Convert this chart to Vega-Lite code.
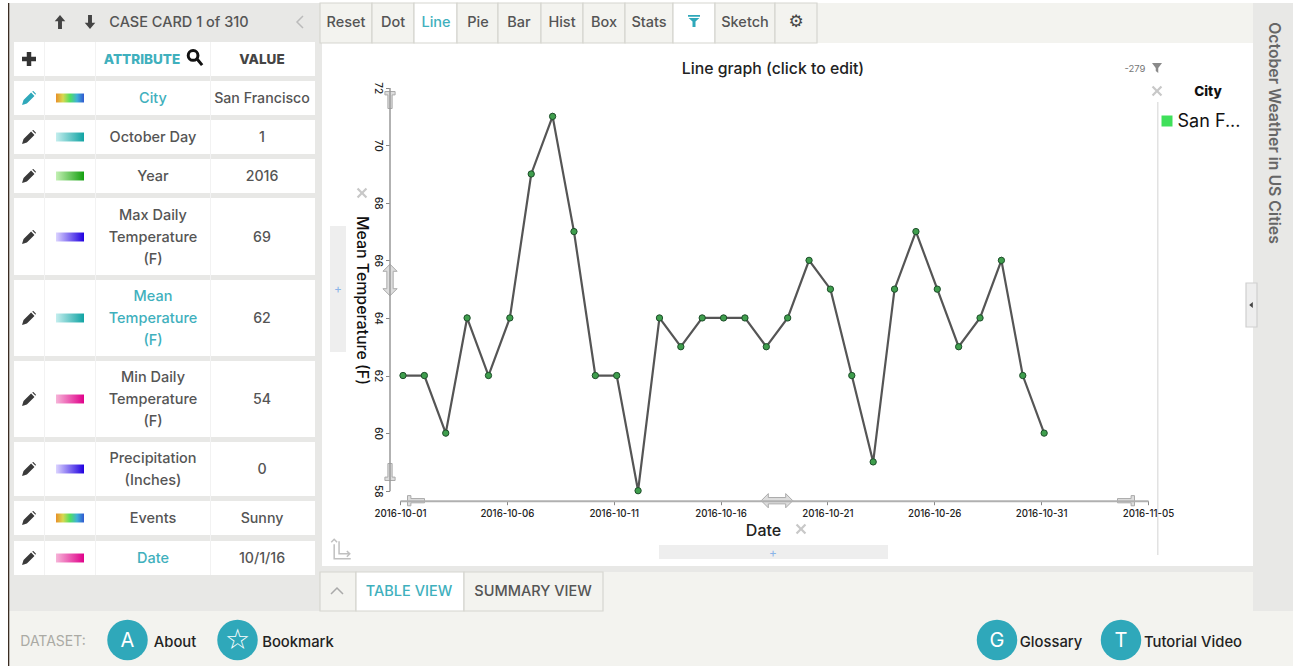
{
"$schema":"https://vega.github.io/schema/vega-lite/v6.json",
"width":1293,"height":666,"padding":0,"autosize":"none","background":"#ffffff",
"view":{"stroke":null},
"config":{"font":"Inter","text":{"font":"Inter","lineBreak":"\n","lineHeight":22,"dy":1}},
"resolve":{"scale":{"x":"independent","y":"independent","color":"independent","stroke":"independent"},"axis":{"x":"independent","y":"independent"}},
"layer":[
{"data":{"values":[
{"box":"left panel","kind":"panel","start":1,"end":1.5},
{"box":"right panel","kind":"panel","start":2,"end":2.5},
{"box":"toolbar","kind":"cream","start":3,"end":3.5},
{"box":"plot","kind":"white","start":4,"end":4.5},
{"box":"band","kind":"panel","start":5,"end":5.5},
{"box":"tabs","kind":"cream","start":6,"end":6.5},
{"box":"footer","kind":"cream","start":7,"end":7.5},
{"box":"edge","kind":"edge","start":8,"end":8.5},
{"box":"row header","kind":"white","start":9,"end":9.5},
{"box":"row City","kind":"white","start":10,"end":10.5},
{"box":"row Day","kind":"white","start":11,"end":11.5},
{"box":"row Year","kind":"white","start":12,"end":12.5},
{"box":"row Max","kind":"white","start":13,"end":13.5},
{"box":"row Mean","kind":"white","start":14,"end":14.5},
{"box":"row Min","kind":"white","start":15,"end":15.5},
{"box":"row Precip","kind":"white","start":16,"end":16.5},
{"box":"row Events","kind":"white","start":17,"end":17.5},
{"box":"row Date","kind":"white","start":18,"end":18.5},
{"box":"sep1","kind":"sep","start":19,"end":19.5},
{"box":"sep2","kind":"sep","start":20,"end":20.5},
{"box":"sep3","kind":"sep","start":21,"end":21.5},
{"box":"Reset","kind":"button","start":22,"end":22.5},
{"box":"Dot","kind":"button","start":23,"end":23.5},
{"box":"Line","kind":"active","start":24,"end":24.5},
{"box":"Pie","kind":"button","start":25,"end":25.5},
{"box":"Bar","kind":"button","start":26,"end":26.5},
{"box":"Hist","kind":"button","start":27,"end":27.5},
{"box":"Box","kind":"button","start":28,"end":28.5},
{"box":"Stats","kind":"button","start":29,"end":29.5},
{"box":"Filter","kind":"active","start":30,"end":30.5},
{"box":"Sketch","kind":"button","start":31,"end":31.5},
{"box":"Settings","kind":"button","start":32,"end":32.5},
{"box":"Collapse tab","kind":"button","start":33,"end":33.5},
{"box":"Table view","kind":"active","start":34,"end":34.5},
{"box":"Summary view","kind":"button","start":35,"end":35.5},
{"box":"y add","kind":"add","start":36,"end":36.5},
{"box":"x add","kind":"add","start":37,"end":37.5},
{"box":"legend rule","kind":"rule","start":38,"end":38.5},
{"box":"side handle","kind":"side","start":39,"end":39.5}
]},
"mark":{"type":"rect","strokeWidth":1.2},
"encoding":{
"x":{"field":"start","type":"quantitative","axis":null,"scale":{"nice":false,"zero":false,
"domain":[1,1.5,2,2.5,3,3.5,4,4.5,5,5.5,6,6.5,7,7.5,8,8.5,9,9.5,10,10.5,11,11.5,12,12.5,13,13.5,14,14.5,15,15.5,16,16.5,17,17.5,18,18.5,19,19.5,20,20.5,21,21.5,22,22.5,23,23.5,24,24.5,25,25.5,26,26.5,27,27.5,28,28.5,29,29.5,30,30.5,31,31.5,32,32.5,33,33.5,34,34.5,35,35.5,36,36.5,37,37.5,38,38.5,39,39.5],
"range":[9,322,1253,1293,320,1253,322,1253,320,1253,320,1253,9,1293,8,9.3,14,315,14,315,14,315,14,315,14,315,14,315,14,315,14,315,14,315,14,315,44,45,95,96,210,211,320,372,372,414,414,457,457,498,498,541,541,583,583,625,625,673,673,715,715,775,775,817,320,356,356,464,464,603,330,346,659,888,1157,1158.5,1246,1257]}},
"x2":{"field":"end"},
"y":{"field":"start","type":"quantitative","axis":null,"scale":{"nice":false,"zero":false,
"domain":[1,1.5,2,2.5,3,3.5,4,4.5,5,5.5,6,6.5,7,7.5,8,8.5,9,9.5,10,10.5,11,11.5,12,12.5,13,13.5,14,14.5,15,15.5,16,16.5,17,17.5,18,18.5,19,19.5,20,20.5,21,21.5,22,22.5,23,23.5,24,24.5,25,25.5,26,26.5,27,27.5,28,28.5,29,29.5,30,30.5,31,31.5,32,32.5,33,33.5,34,34.5,35,35.5,36,36.5,37,37.5,38,38.5,39,39.5],
"range":[3,612,3,611,3,43,43,566,566,572,572,611,611,666,3,666,42,76,81,115,120,154,159,193,198,275,280,356,361,437,442,496,501,535,541,575,42,575,42,575,42,575,3,43,3,43,3,43,3,43,3,43,3,43,3,43,3,43,3,43,3,43,3,43,572,611,572,611,572,611,226,352,545,559,102,555,283,327]}},
"y2":{"field":"end"},
"fill":{"field":"kind","type":"nominal","legend":null,"scale":{"domain":["panel","cream","white","edge","sep","button","active","add","rule","side"],"range":["#e8e8e6","#f3f3ef","#ffffff","#3a2c22","#f2f2f2","#f3f3ef","#ffffff","#eeeeee","#e2e2e2","#eeeeee"]}},
"stroke":{"field":"kind","type":"nominal","legend":null,"scale":{"domain":["panel","cream","white","edge","sep","button","active","add","rule","side"],"range":["transparent","transparent","transparent","transparent","transparent","#d6d6d0","#d6d6d0","transparent","transparent","#cfcfcf"]}}
}},
{"data":{"values":[
{"row":1,"attribute":"City","value":"San Francisco","selected":true,"group":"rainbow"},
{"row":2,"attribute":"October Day","value":"1","selected":false,"group":"teal"},
{"row":3,"attribute":"Year","value":"2016","selected":false,"group":"green"},
{"row":4,"attribute":"Max Daily\nTemperature\n(F)","value":"69","selected":false,"group":"blue"},
{"row":5,"attribute":"Mean\nTemperature\n(F)","value":"62","selected":true,"group":"teal"},
{"row":6,"attribute":"Min Daily\nTemperature\n(F)","value":"54","selected":false,"group":"pink"},
{"row":7,"attribute":"Precipitation\n(Inches)","value":"0","selected":false,"group":"blue"},
{"row":8,"attribute":"Events","value":"Sunny","selected":false,"group":"rainbow"},
{"row":9,"attribute":"Date","value":"10/1/16","selected":true,"group":"pink"}
]},
"encoding":{"y":{"field":"row","type":"quantitative","axis":null,"scale":{"nice":false,"zero":false,"domain":[1,2,3,4,5,6,7,8,9],"range":[98,137,176,237,318,399,469,518,558]}}},
"layer":[
{"mark":{"type":"point","filled":true,"opacity":1,"size":196,"shape":"M-1,1 L-0.78,0.3 L0.3,-0.78 L0.78,-0.3 L-0.3,0.78 Z M0.45,-0.92 L0.62,-1 L1,-0.62 L0.92,-0.45 Z"},
"encoding":{"x":{"datum":1,"type":"quantitative","axis":null,"scale":{"nice":false,"zero":false,"domain":[1,4],"range":[29,262]}},
"color":{"condition":{"test":"datum.selected && datum.row==1","value":"#2fa8ba"},"value":"#3a3a3a"}}},
{"transform":[{"filter":"datum.group=='rainbow'"}],"mark":{"type":"point","filled":true,"opacity":1,"size":784,"shape":"M-1,-0.32 L1,-0.32 L1,0.32 L-1,0.32 Z","fill":{"gradient":"linear","x1":0,"x2":1,"y1":0,"y2":0,"stops":[{"offset":0,"color":"#e8902a"},{"offset":0.25,"color":"#d8d850"},{"offset":0.5,"color":"#50e060"},{"offset":0.75,"color":"#40b0d8"},{"offset":1,"color":"#3058d0"}]}},
"encoding":{"x":{"datum":2,"type":"quantitative","axis":null,"scale":{"nice":false,"zero":false,"domain":[1,2],"range":[29,70]}}}},
{"transform":[{"filter":"datum.group=='teal'"}],"mark":{"type":"point","filled":true,"opacity":1,"size":784,"shape":"M-1,-0.32 L1,-0.32 L1,0.32 L-1,0.32 Z","fill":{"gradient":"linear","x1":0,"x2":1,"y1":0,"y2":0,"stops":[{"offset":0,"color":"#c4eeee"},{"offset":1,"color":"#10a3a3"}]}},
"encoding":{"x":{"datum":2,"type":"quantitative","axis":null,"scale":{"nice":false,"zero":false,"domain":[1,2],"range":[29,70]}}}},
{"transform":[{"filter":"datum.group=='green'"}],"mark":{"type":"point","filled":true,"opacity":1,"size":784,"shape":"M-1,-0.32 L1,-0.32 L1,0.32 L-1,0.32 Z","fill":{"gradient":"linear","x1":0,"x2":1,"y1":0,"y2":0,"stops":[{"offset":0,"color":"#c4f0b4"},{"offset":1,"color":"#14a010"}]}},
"encoding":{"x":{"datum":2,"type":"quantitative","axis":null,"scale":{"nice":false,"zero":false,"domain":[1,2],"range":[29,70]}}}},
{"transform":[{"filter":"datum.group=='blue'"}],"mark":{"type":"point","filled":true,"opacity":1,"size":784,"shape":"M-1,-0.32 L1,-0.32 L1,0.32 L-1,0.32 Z","fill":{"gradient":"linear","x1":0,"x2":1,"y1":0,"y2":0,"stops":[{"offset":0,"color":"#dcd4ff"},{"offset":1,"color":"#2000e0"}]}},
"encoding":{"x":{"datum":2,"type":"quantitative","axis":null,"scale":{"nice":false,"zero":false,"domain":[1,2],"range":[29,70]}}}},
{"transform":[{"filter":"datum.group=='pink'"}],"mark":{"type":"point","filled":true,"opacity":1,"size":784,"shape":"M-1,-0.32 L1,-0.32 L1,0.32 L-1,0.32 Z","fill":{"gradient":"linear","x1":0,"x2":1,"y1":0,"y2":0,"stops":[{"offset":0,"color":"#f6b4d8"},{"offset":1,"color":"#e0008a"}]}},
"encoding":{"x":{"datum":2,"type":"quantitative","axis":null,"scale":{"nice":false,"zero":false,"domain":[1,2],"range":[29,70]}}}},
{"mark":{"type":"text","fontSize":14.5,"fontWeight":500},
"encoding":{"x":{"datum":3,"type":"quantitative","axis":null,"scale":{"nice":false,"zero":false,"domain":[3,4],"range":[153,262]}},
"y":{"field":"row","type":"quantitative","axis":null,"scale":{"nice":false,"zero":false,"domain":[1,2,3,4,5,6,7,8,9],"range":[98,137,176,215,296,377,458,518,558]}},
"text":{"field":"attribute"},
"color":{"condition":{"test":"datum.selected","value":"#3fb0bd"},"value":"#555555"}}},
{"mark":{"type":"text","fontSize":14.2,"fontWeight":500,"color":"#555555"},
"encoding":{"x":{"datum":4,"type":"quantitative","axis":null,"scale":{"nice":false,"zero":false,"domain":[3,4],"range":[153,262]}},"text":{"field":"value"}}}
],
"resolve":{"scale":{"x":"independent","y":"independent"}}
},
{"data":{"values":[
{"i":1,"icon":"up"},{"i":2,"icon":"down"},
{"i":3,"text":"CASE CARD 1 of 310","style":"label"},
{"i":4,"line":"chev-left"},
{"i":5,"icon":"plus"},
{"i":6,"text":"ATTRIBUTE","style":"strong","active":true},
{"i":7,"text":"VALUE","style":"strong"},
{"i":8,"line":"search"},
{"i":9,"text":"Line graph (click to edit)","style":"heading"},
{"i":10,"text":"-279","style":"tiny"},
{"i":11,"icon":"funnel-grey"},{"i":12,"icon":"funnel-teal"},
{"i":13,"text":"⚙","style":"gear"},
{"i":14,"icon":"x-mark"},{"i":15,"icon":"x-mark"},{"i":16,"icon":"x-mark"},
{"i":17,"text":"City","style":"strong","black":true},
{"i":18,"icon":"swatch"},
{"i":19,"text":"San F...","style":"legend"},
{"i":20,"text":"October Weather in US Cities","style":"side"},
{"i":21,"icon":"tri-left"},
{"i":22,"text":"+","style":"add"},{"i":23,"text":"+","style":"add"},
{"i":24,"line":"axes"},{"i":25,"line":"chev-up"},
{"i":26,"text":"TABLE VIEW","style":"label","active":true},
{"i":27,"text":"SUMMARY VIEW","style":"label"},
{"i":28,"text":"DATASET:","style":"faint"},
{"i":29,"handle":"peg-down"},{"i":30,"handle":"double-v"},{"i":31,"handle":"peg-up"},
{"i":32,"handle":"peg-right"},{"i":33,"handle":"double-h"},{"i":34,"handle":"peg-left"},
{"i":35,"icon":"badge"},{"i":36,"icon":"badge"},{"i":37,"icon":"badge"},{"i":38,"icon":"badge"},
{"i":39,"text":"A","style":"badge"},{"i":40,"text":"☆","style":"star"},{"i":41,"text":"G","style":"badge"},{"i":42,"text":"T","style":"badge"},
{"i":43,"text":"About","style":"dark"},{"i":44,"text":"Bookmark","style":"dark"},{"i":45,"text":"Glossary","style":"dark"},{"i":46,"text":"Tutorial Video","style":"dark"},
{"i":47,"text":"Reset","style":"label"},{"i":48,"text":"Dot","style":"label"},{"i":49,"text":"Line","style":"label","active":true},{"i":50,"text":"Pie","style":"label"},{"i":51,"text":"Bar","style":"label"},{"i":52,"text":"Hist","style":"label"},{"i":53,"text":"Box","style":"label"},{"i":54,"text":"Stats","style":"label"},{"i":55,"text":"Sketch","style":"label"}
]},
"encoding":{
"x":{"field":"i","type":"quantitative","axis":null,"scale":{"nice":false,"zero":false,
"domain":[1,2,3,4,5,6,7,8,9,10,11,12,13,14,15,16,17,18,19,20,21,22,23,24,25,26,27,28,29,30,31,32,33,34,35,36,37,38,39,40,41,42,43,44,45,46,47,48,49,50,51,52,53,54,55],
"range":[60,90,179,300,29,142,262,195,773,1135,1157,694,796,362,801,1157,1208,1167,1209,1275,1251,338,773,341,337,409,533,53,390,390,390,416,777,1126,127.5,237.5,997,1121,127.5,237.5,997,1121,175,298,1051,1193,346,393,436,478,519,562,604,649,745]}},
"y":{"field":"i","type":"quantitative","axis":null,"scale":{"nice":false,"zero":false,
"domain":[1,2,3,4,5,6,7,8,9,10,11,12,13,14,15,16,17,18,19,20,21,22,23,24,25,26,27,28,29,30,31,32,33,34,35,36,37,38,39,40,41,42,43,44,45,46,47,48,49,50,51,52,53,54,55],
"range":[22,22,22,22,59,59,59,58,68,68,68,21,21,193,529,91,91,121,121,133,305,288,552,549,591,591,591,641,100,280,472,500.7,500.7,500.7,640,640,640,640,640,640,640,640,642,642,642,642,22,22,22,22,22,22,22,22,22]}}
},
"resolve":{"scale":{"shape":"independent","size":"independent","color":"independent"}},
"layer":[
{"transform":[{"filter":"datum.icon"}],"mark":{"type":"point","filled":true,"opacity":1},
"encoding":{
"shape":{"field":"icon","type":"nominal","legend":null,"scale":{"domain":["up","down","plus","funnel-grey","funnel-teal","x-mark","swatch","tri-left","badge"],"range":["M0,-1 L0.75,-0.1 L0.28,-0.1 L0.28,1 L-0.28,1 L-0.28,-0.1 L-0.75,-0.1 Z","M0,1 L0.75,0.1 L0.28,0.1 L0.28,-1 L-0.28,-1 L-0.28,0.1 L-0.75,0.1 Z","M-0.32,-1 L0.32,-1 L0.32,-0.32 L1,-0.32 L1,0.32 L0.32,0.32 L0.32,1 L-0.32,1 L-0.32,0.32 L-1,0.32 L-1,-0.32 L-0.32,-0.32 Z","M-1,-1 L1,-1 L0.25,0 L0.25,1 L-0.25,0.6 L-0.25,0 Z","M-1,-1 L1,-1 L1,-0.7 L-1,-0.7 Z M-0.9,-0.5 L0.9,-0.5 L0.25,0.1 L0.25,1 L-0.25,1 L-0.25,0.1 Z","M-1,-0.7 L-0.7,-1 L0,-0.3 L0.7,-1 L1,-0.7 L0.3,0 L1,0.7 L0.7,1 L0,0.3 L-0.7,1 L-1,0.7 L-0.3,0 Z","square","M0.6,-1 L0.6,1 L-0.6,0 Z","circle"]}},
"size":{"field":"icon","type":"nominal","legend":null,"scale":{"type":"ordinal","domain":["up","down","plus","funnel-grey","funnel-teal","x-mark","swatch","tri-left","badge"],"range":[196,196,196,100,144,110,121,36,1640]}},
"color":{"field":"icon","type":"nominal","legend":null,"scale":{"domain":["up","down","plus","funnel-grey","funnel-teal","x-mark","swatch","tri-left","badge"],"range":["#444444","#444444","#333333","#8a8a8a","#2fa8ba","#c8c8c8","#3fe05a","#444444","#2fa8ba"]}}
}},
{"transform":[{"filter":"datum.line"}],"mark":{"type":"point","filled":false,"opacity":1,"strokeWidth":1.5},
"encoding":{
"shape":{"field":"line","type":"nominal","legend":null,"scale":{"domain":["chev-left","chev-up","search","axes"],"range":["M0.5,-1 L-0.5,0 L0.5,1","M-1,0.5 L0,-0.5 L1,0.5","M-0.25,-1 A0.65,0.65 0 1 1 -0.26,-1 Z M0.25,0.1 L0.95,0.95","M-0.7,-0.5 L-0.7,1 L1,1 M-1,-0.7 L-0.7,-1 L-0.4,-0.7 M-0.2,-0.8 L-0.2,0.5 L0.9,0.5 M0.6,0.2 L0.9,0.5 L0.6,0.8"]}},
"size":{"field":"line","type":"nominal","legend":null,"scale":{"type":"ordinal","domain":["chev-left","chev-up","search","axes"],"range":[144,144,225,380]}},
"color":{"field":"line","type":"nominal","legend":null,"scale":{"domain":["chev-left","chev-up","search","axes"],"range":["#bbbbbb","#aaaaaa","#111111","#c0c0c0"]}},
"strokeWidth":{"condition":{"test":"datum.line=='search'","value":3},"value":1.5}
}},
{"transform":[{"filter":"datum.handle"}],"mark":{"type":"point","filled":true,"opacity":1,"fill":"#dddddd","stroke":"#aaaaaa","strokeWidth":1},
"encoding":{
"shape":{"field":"handle","type":"nominal","legend":null,"scale":{"domain":["peg-down","peg-up","peg-right","peg-left","double-v","double-h"],"range":["M-0.6,-1 L0.6,-1 L0.6,-0.6 L0.25,-0.6 L0.25,1 L-0.25,1 L-0.25,-0.6 L-0.6,-0.6 Z","M-0.6,1 L0.6,1 L0.6,0.6 L0.25,0.6 L0.25,-1 L-0.25,-1 L-0.25,0.6 L-0.6,0.6 Z","M-1,-0.6 L-1,0.6 L-0.6,0.6 L-0.6,0.25 L1,0.25 L1,-0.25 L-0.6,-0.25 L-0.6,-0.6 Z","M1,-0.6 L1,0.6 L0.6,0.6 L0.6,0.25 L-1,0.25 L-1,-0.25 L0.6,-0.25 L0.6,-0.6 Z","M0,-1 L0.45,-0.55 L0.2,-0.55 L0.2,0.55 L0.45,0.55 L0,1 L-0.45,0.55 L-0.2,0.55 L-0.2,-0.55 L-0.45,-0.55 Z","M-1,0 L-0.55,0.45 L-0.55,0.2 L0.55,0.2 L0.55,0.45 L1,0 L0.55,-0.45 L0.55,-0.2 L-0.55,-0.2 L-0.55,-0.45 Z"]}},
"size":{"field":"handle","type":"nominal","legend":null,"scale":{"type":"ordinal","domain":["peg-down","peg-up","peg-right","peg-left","double-v","double-h"],"range":[289,289,289,289,1000,1000]}}
}},
{"transform":[{"filter":"datum.style=='label'"}],"mark":{"type":"text","fontSize":14.5,"fontWeight":500},
"encoding":{"text":{"field":"text"},"color":{"condition":{"test":"datum.active","value":"#3fb0bd"},"value":"#555555"}}},
{"transform":[{"filter":"datum.style=='strong'"}],"mark":{"type":"text","fontSize":13.5,"fontWeight":800},
"encoding":{"text":{"field":"text"},"color":{"condition":[{"test":"datum.active","value":"#3fb0bd"},{"test":"datum.black","value":"#111111"}],"value":"#444444"}}},
{"transform":[{"filter":"datum.style=='dark'"}],"mark":{"type":"text","fontSize":14.8,"fontWeight":500,"color":"#222222"},"encoding":{"text":{"field":"text"}}},
{"transform":[{"filter":"datum.style=='heading'"}],"mark":{"type":"text","fontSize":15.8,"fontWeight":500,"color":"#222222"},"encoding":{"text":{"field":"text"}}},
{"transform":[{"filter":"datum.style=='tiny'"}],"mark":{"type":"text","fontSize":9.5,"color":"#777777"},"encoding":{"text":{"field":"text"}}},
{"transform":[{"filter":"datum.style=='gear'"}],"mark":{"type":"text","font":"DejaVu Sans","fontSize":17,"color":"#444444"},"encoding":{"text":{"field":"text"}}},
{"transform":[{"filter":"datum.style=='legend'"}],"mark":{"type":"text","fontSize":18,"color":"#111111"},"encoding":{"text":{"field":"text"}}},
{"transform":[{"filter":"datum.style=='side'"}],"mark":{"type":"text","fontSize":15.8,"fontWeight":600,"angle":90,"color":"#666666"},"encoding":{"text":{"field":"text"}}},
{"transform":[{"filter":"datum.style=='add'"}],"mark":{"type":"text","fontSize":12,"color":"#8ab4e8"},"encoding":{"text":{"field":"text"}}},
{"transform":[{"filter":"datum.style=='faint'"}],"mark":{"type":"text","fontSize":14,"color":"#aaaaa4"},"encoding":{"text":{"field":"text"}}},
{"transform":[{"filter":"datum.style=='badge'"}],"mark":{"type":"text","fontSize":20,"color":"#ffffff"},"encoding":{"text":{"field":"text"}}},
{"transform":[{"filter":"datum.style=='star'"}],"mark":{"type":"text","font":"DejaVu Sans","fontSize":28,"color":"#ffffff"},"encoding":{"text":{"field":"text"}}}
]
},
{"data":{"values":[
{"date":"2016-10-01","temp":62},{"date":"2016-10-02","temp":62},{"date":"2016-10-03","temp":60},{"date":"2016-10-04","temp":64},{"date":"2016-10-05","temp":62},{"date":"2016-10-06","temp":64},{"date":"2016-10-07","temp":69},{"date":"2016-10-08","temp":71},{"date":"2016-10-09","temp":67},{"date":"2016-10-10","temp":62},{"date":"2016-10-11","temp":62},{"date":"2016-10-12","temp":58},{"date":"2016-10-13","temp":64},{"date":"2016-10-14","temp":63},{"date":"2016-10-15","temp":64},{"date":"2016-10-16","temp":64},{"date":"2016-10-17","temp":64},{"date":"2016-10-18","temp":63},{"date":"2016-10-19","temp":64},{"date":"2016-10-20","temp":66},{"date":"2016-10-21","temp":65},{"date":"2016-10-22","temp":62},{"date":"2016-10-23","temp":59},{"date":"2016-10-24","temp":65},{"date":"2016-10-25","temp":67},{"date":"2016-10-26","temp":65},{"date":"2016-10-27","temp":63},{"date":"2016-10-28","temp":64},{"date":"2016-10-29","temp":66},{"date":"2016-10-30","temp":62},{"date":"2016-10-31","temp":60}
]},
"encoding":{
"x":{"field":"date","type":"temporal","title":"Date","scale":{"type":"utc","domain":["2016-10-01","2016-11-05"],"range":[400,1148],"nice":false},
"axis":{"orient":"bottom","zindex":1,"offset":-165.3,"grid":false,"values":["2016-10-01","2016-10-06","2016-10-11","2016-10-16","2016-10-21","2016-10-26","2016-10-31","2016-11-05"],"format":"%Y-%m-%d","labelAngle":0,"labelFontSize":9.7,"labelFontWeight":500,"labelColor":"#222222","labelPadding":4,"labelFlush":false,"labelOverlap":false,"tickColor":"#888888","tickSize":4,"domainColor":"#b0b0b0","domainWidth":2,"titleFontSize":16,"titleFontWeight":500,"titleColor":"#222222","titleX":763,"titleY":22}},
"y":{"field":"temp","type":"quantitative","title":"Mean Temperature (F)","scale":{"domain":[58,72],"range":[490.7,87.6],"nice":false,"zero":false},
"axis":{"orient":"left","zindex":1,"offset":-389.5,"grid":false,"values":[58,60,62,64,66,68,70,72],"labelAngle":90,"labelAlign":"center","labelBaseline":"middle","labelFontSize":10,"labelFontWeight":500,"labelColor":"#222222","labelPadding":8,"labelOverlap":false,"tickColor":"#888888","tickSize":4,"domainColor":"#999999","domainWidth":1.5,"titleAngle":90,"titleFontSize":15.9,"titleFontWeight":500,"titleColor":"#111111","titleX":-36,"titleY":300}}
},
"layer":[
{"mark":{"type":"line","color":"#555555","strokeWidth":2.2,"xOffset":3}},
{"mark":{"type":"point","filled":true,"opacity":1,"size":40,"fill":"#3f9e4d","stroke":"#1d4d2a","strokeWidth":1,"xOffset":3}}
]
}
]
}
